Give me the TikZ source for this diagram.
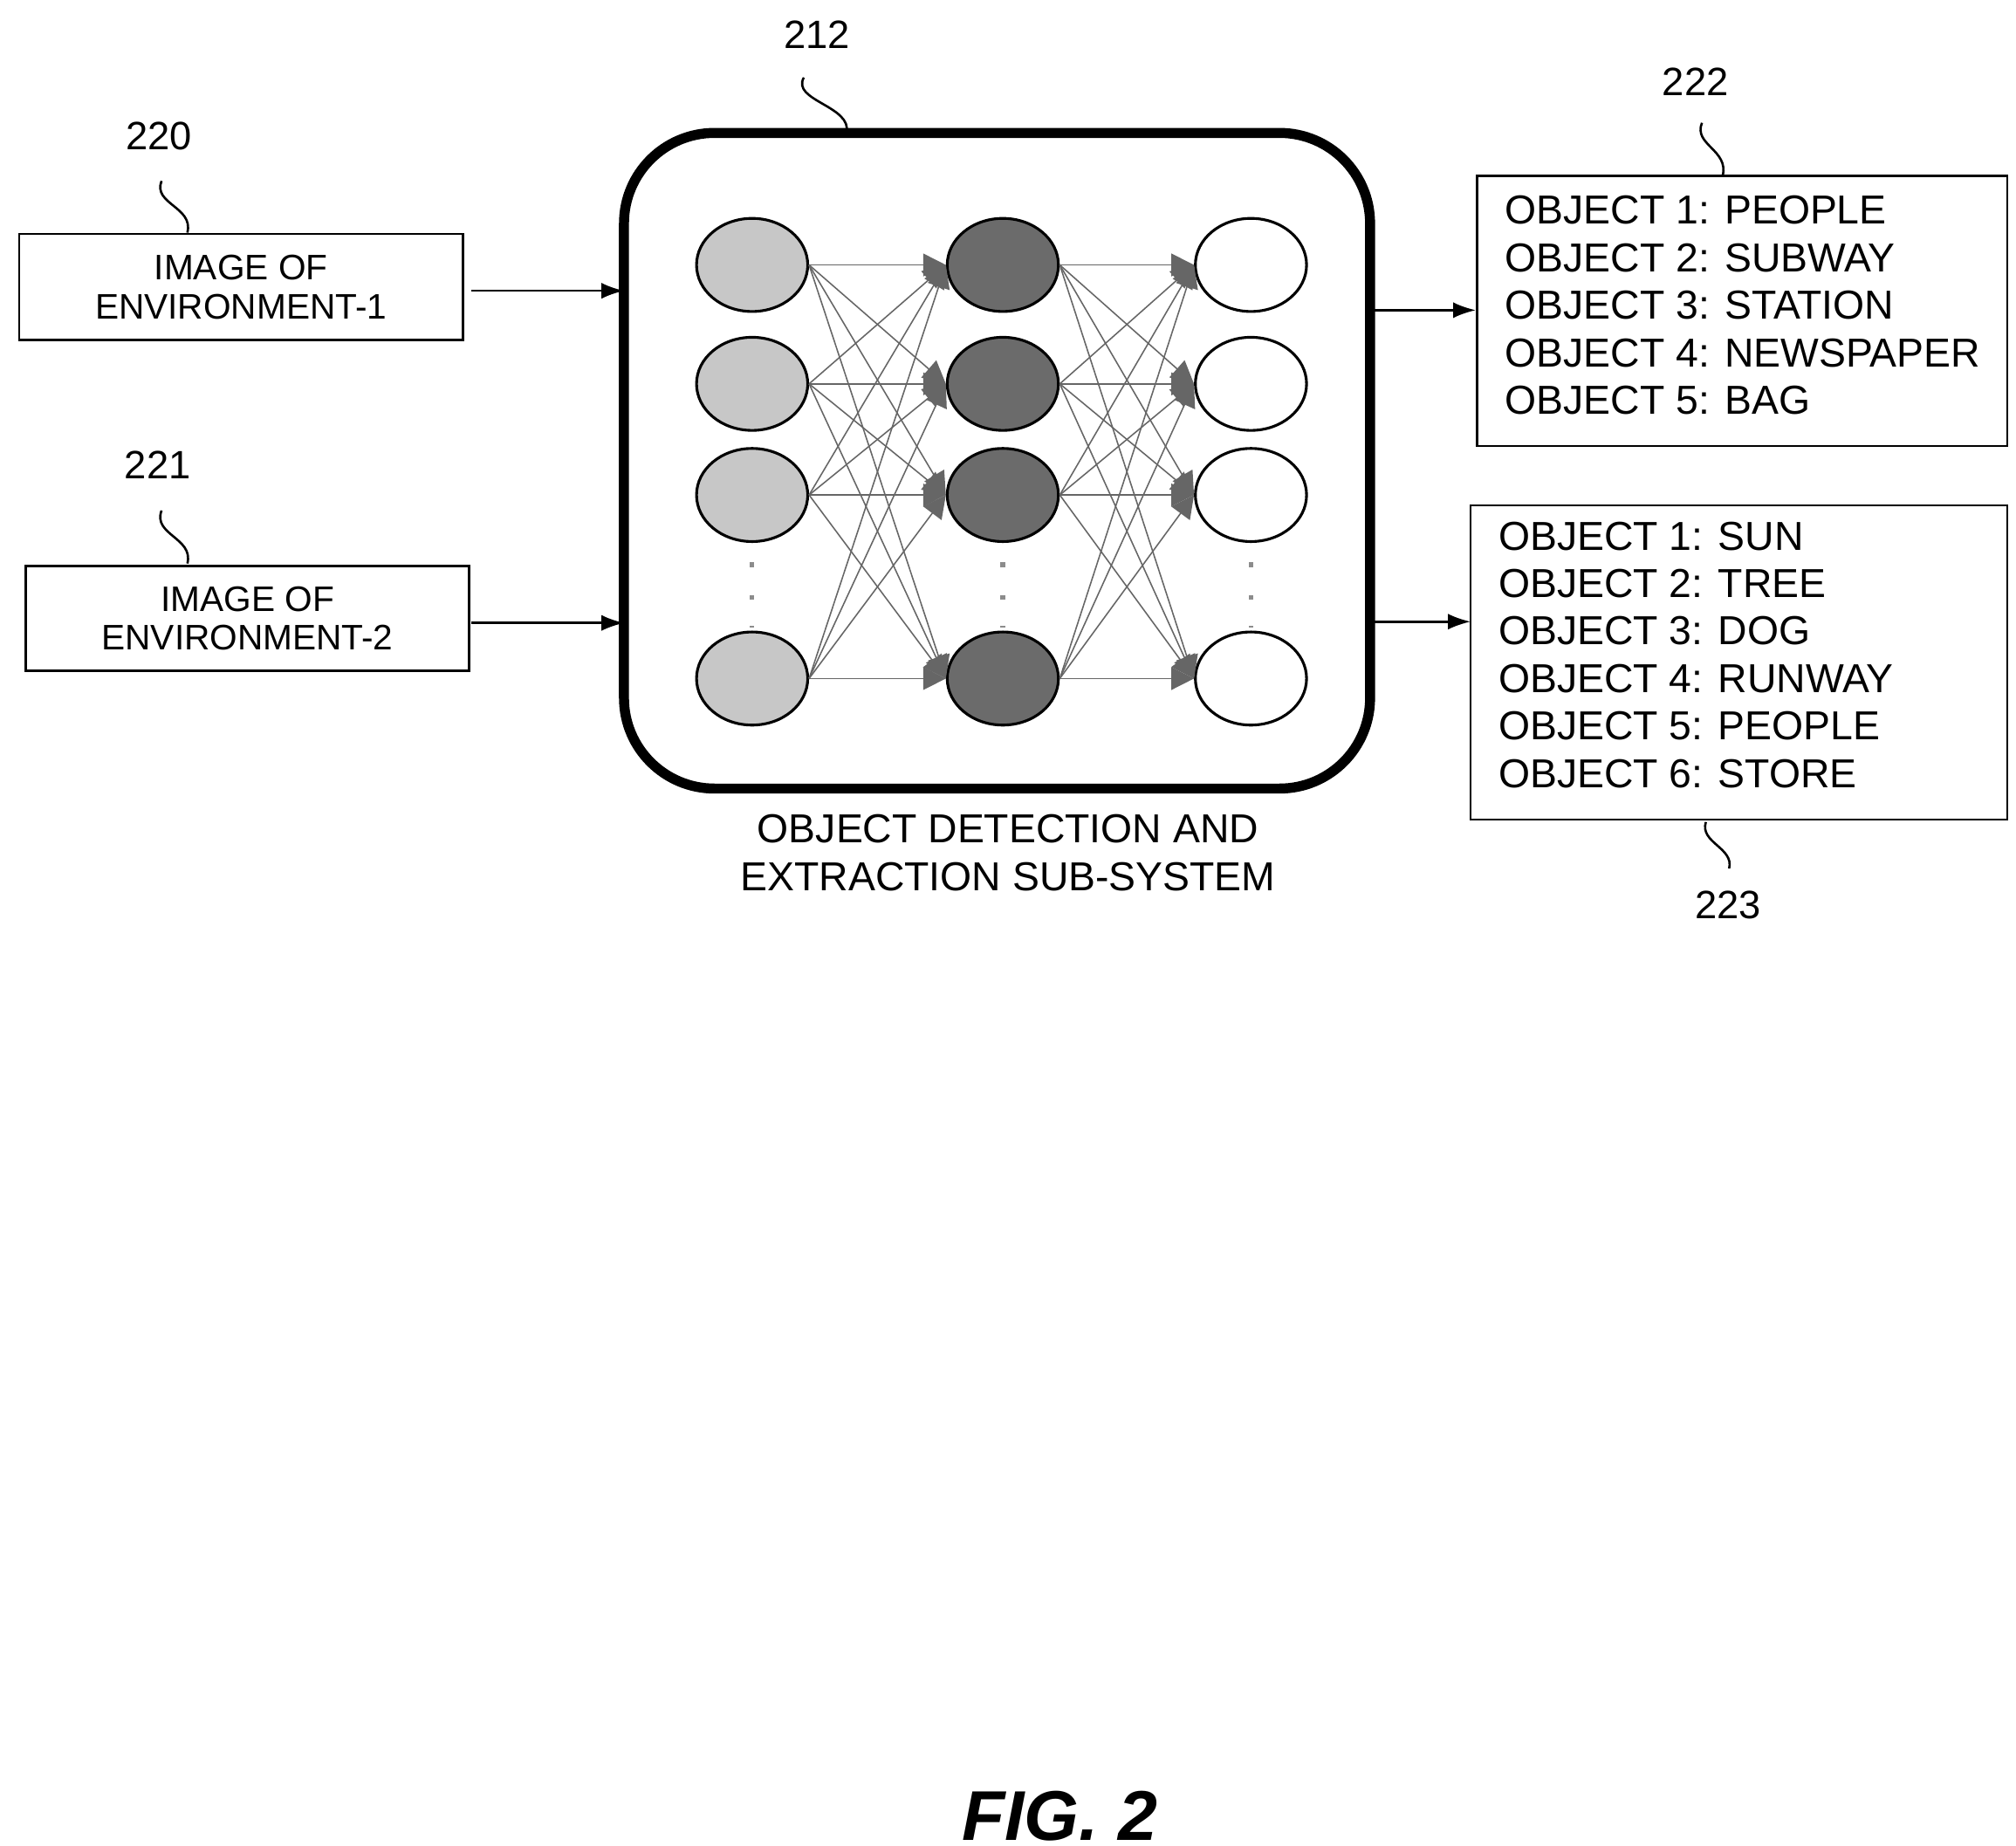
\documentclass[tikz,border=0pt]{standalone}
\usepackage{fontspec}
\setmainfont{Liberation Sans}
\usetikzlibrary{arrows.meta,shapes.geometric}
\begin{document}
\begin{tikzpicture}[x=0.01cm,y=-0.01cm,
  box/.style={draw,line width=0.5pt,inner sep=0pt,font=\fontsize{7.8}{8.6}\selectfont,align=center},
  lbl/.style={font=\fontsize{8.7}{10}\selectfont,inner sep=0pt},
  list/.style={font=\fontsize{8.9}{10.45}\selectfont,align=left,anchor=north west,inner sep=0pt},
  arr/.style={-{Latex[length=5pt,width=3.5pt]},line width=0.5pt},
  neu/.style={draw,line width=0.6pt,ellipse,minimum width=0.86cm,minimum height=0.72cm,inner sep=0pt},
  conn/.style={draw=black!60,line width=0.3pt,-{Triangle[length=5pt,width=5pt,color=black!60]}},
  sq/.style={line width=0.5pt},
  dot/.style={fill=black!45,inner sep=0pt,minimum size=0.035cm,rectangle}]
\useasboundingbox (0,0) rectangle (1560,1428);
% input boxes
\node[box,minimum width=3.43cm,minimum height=0.82cm] (b1) at (186.5,222) {IMAGE OF\\ENVIRONMENT-1};
\node[box,minimum width=3.43cm,minimum height=0.81cm] (b2) at (191.5,478.5) {IMAGE OF\\ENVIRONMENT-2};
% main box
\node[draw,line width=2.2pt,rounded corners=0.7cm,minimum width=5.77cm,minimum height=5.07cm] (main) at (771.5,356.5) {};
\node[font=\fontsize{8.9}{10.6}\selectfont,align=center] (cap) at (780,660) {OBJECT DETECTION AND\\EXTRACTION SUB-SYSTEM};
% output boxes
\node[draw,line width=0.5pt,minimum width=4.10cm,minimum height=2.09cm] (o1) at (1348,240.5) {};
\node[draw,line width=0.5pt,minimum width=4.15cm,minimum height=2.43cm] (o2) at (1345.5,512.5) {};
\node[list] (t1) at (1164,151) {OBJECT 1: PEOPLE\\OBJECT 2: SUBWAY\\OBJECT 3: STATION\\OBJECT 4: NEWSPAPER\\OBJECT 5: BAG};
\node[list] (t2) at (1159,403) {OBJECT 1: SUN\\OBJECT 2: TREE\\OBJECT 3: DOG\\OBJECT 4: RUNWAY\\OBJECT 5: PEOPLE\\OBJECT 6: STORE};
% arrows
\coordinate (a1s) at (365,225); \coordinate (a1e) at (483,225);
\coordinate (a2s) at (365,482); \coordinate (a2e) at (483,482);
\coordinate (a3s) at (1062,240); \coordinate (a3e) at (1142,240);
\coordinate (a4s) at (1062,481); \coordinate (a4e) at (1138,481);
\draw[arr] (a1s) -- (a1e);
\draw[arr] (a2s) -- (a2e);
\draw[arr] (a3s) -- (a3e);
\draw[arr] (a4s) -- (a4e);
% reference labels
\node[lbl] (l220) at (123,105) {220};
\node[lbl] (l221) at (122,360) {221};
\node[lbl] (l212) at (632,27) {212};
\node[lbl] (l222) at (1312,63) {222};
\node[lbl] (l223) at (1337,700) {223};
\draw[sq] (125,140) .. controls (118,158) and (150,160) .. (145,180);
\draw[sq] (125,395) .. controls (118,414) and (150,416) .. (145,436);
\draw[sq] (622,60) .. controls (612,78) and (660,82) .. (655,103);
\draw[sq] (1317,95) .. controls (1310,112) and (1338,116) .. (1333,136);
\draw[sq] (1320,636) .. controls (1315,652) and (1342,656) .. (1338,672);
% neurons
\foreach \r/\y in {1/205,2/297,3/383,4/525}{
  \node[neu,fill=black!22] (n1\r) at (582,\y) {};
  \node[neu,fill=black!58] (n2\r) at (776,\y) {};
  \node[neu,fill=white] (n3\r) at (968,\y) {};
}
\foreach \x in {582,776,968}{
  \foreach \y in {437,462}{ \node[dot] at (\x,\y) {}; }
  \node[dot,minimum height=0.015cm] at (\x,485) {};
}
\foreach \i in {1,2,3,4}{
  \foreach \j in {1,2,3,4}{
    \draw[conn] (n1\i.east) -- (n2\j.west);
    \draw[conn] (n2\i.east) -- (n3\j.west);
  }
}
% figure label
\node[font=\bfseries\itshape\fontsize{15.5}{18}\selectfont] (fig) at (820,1405) {FIG. 2};
\end{tikzpicture}
\end{document}
